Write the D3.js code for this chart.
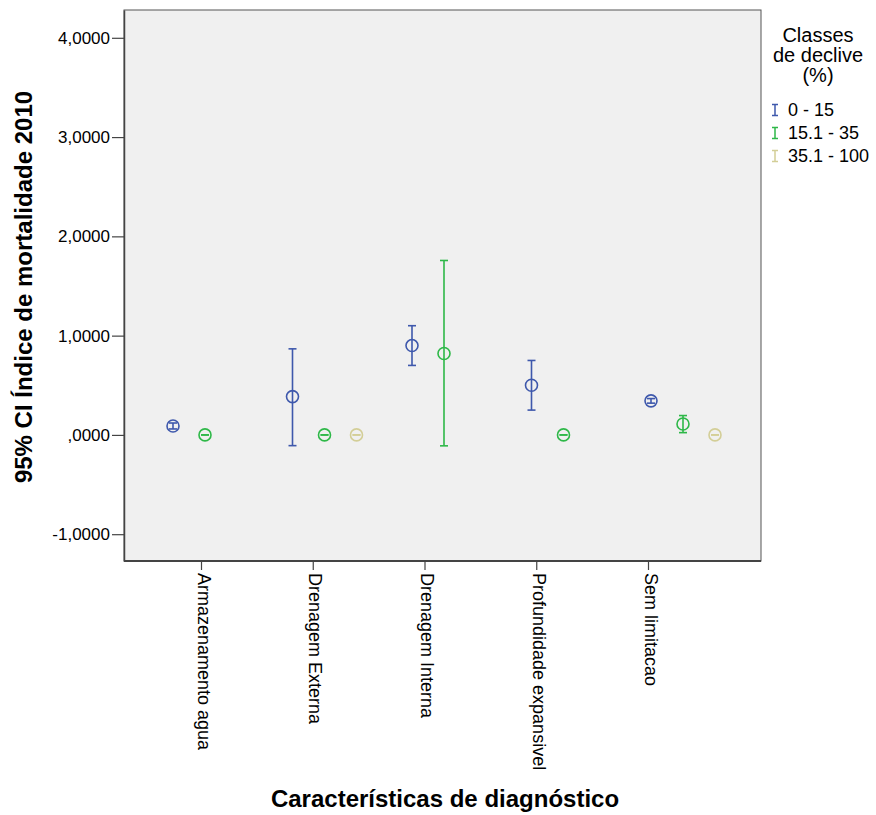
<!DOCTYPE html>
<html>
<head>
<meta charset="utf-8">
<script src="https://cdn.jsdelivr.net/npm/d3@7"></script>
<style>
  body { margin: 0; background: #fff; }
  svg text { font-family: Arial, "Liberation Sans", sans-serif; fill: #000; }
</style>
</head>
<body>
<div id="chart"></div>
<script>
// data
var categories = ["Armazenamento agua", "Drenagem Externa", "Drenagem Interna", "Profundidade expansivel", "Sem limitacao"];
var seriesNames = ["0 - 15", "15.1 - 35", "35.1 - 100"];
var seriesColors = ["#3e58ac", "#2eb848", "#d3ce97"];
// mean / lower / upper per series, null where a class has no data
var means0 = [0.09, 0.386, 0.90, 0.50, 0.343];
var lower0 = [0.06, -0.108, 0.70, 0.25, 0.32];
var upper0 = [0.12, 0.867, 1.10, 0.75, 0.366];
var means1 = [0.0, 0.0, 0.82, 0.0, 0.11];
var lower1 = [0.0, 0.0, -0.11, 0.0, 0.023];
var upper1 = [0.0, 0.0, 1.757, 0.0, 0.195];
var means2 = [null, 0.0, null, null, 0.0];
var lower2 = [null, 0.0, null, null, 0.0];
var upper2 = [null, 0.0, null, null, 0.0];
var yTicks = [-1, 0, 1, 2, 3, 4];

var width = 876, height = 815;
var plotLeft = 124, plotRight = 761, plotTop = 10, plotBottom = 561;

var svg = d3.select("#chart").append("svg")
    .attr("width", width)
    .attr("height", height);

var y = d3.scaleLinear().domain([-1.27, 4.28]).range([plotBottom, plotTop]);
// group centres (middle series) and tick positions as SPSS lays them out
var xGroup = d3.scalePoint().domain(categories).range([205, 683]);
var xTick = d3.scalePoint().domain(categories).range([201, 648]);
var offset = d3.scalePoint().domain(seriesNames).range([-32, 32]);

// plot background
svg.append("rect")
    .attr("x", plotLeft).attr("y", plotTop)
    .attr("width", plotRight - plotLeft).attr("height", plotBottom - plotTop)
    .attr("fill", "#f0f0f0")
    .attr("stroke", "#555").attr("stroke-width", 1);

// y axis
var yAxis = d3.axisLeft(y).tickValues(yTicks).tickSize(12).tickSizeOuter(0).tickPadding(2)
    .tickFormat(function(d) { return d === 0 ? ",0000" : d3.format(".4f")(d).replace(".", ",").replace("\u2212", "-"); });
var gy = svg.append("g").attr("transform", "translate(" + plotLeft + ",0)").call(yAxis);
gy.select(".domain").attr("stroke", "#444").attr("stroke-width", 1.5);
gy.selectAll(".tick line").attr("stroke", "#444").attr("stroke-width", 1.2);
gy.selectAll("text").style("font-size", "17px").attr("fill", "#000");

// x axis
var xAxis = d3.axisBottom(xTick).tickSize(9).tickSizeOuter(0);
var gx = svg.append("g").attr("transform", "translate(0," + plotBottom + ")").call(xAxis);
gx.select(".domain").attr("d", "M" + plotLeft + ",0H" + plotRight).attr("stroke", "#444").attr("stroke-width", 2);
gx.selectAll(".tick line").attr("stroke", "#444").attr("stroke-width", 1.2);
gx.selectAll("text")
    .style("font-size", "18px")
    .attr("text-anchor", "start")
    .attr("transform", "rotate(90)")
    .attr("x", 12).attr("y", 4)
    .attr("dy", "0");

// build rows
var allMeans = [means0, means1, means2], allLow = [lower0, lower1, lower2], allUp = [upper0, upper1, upper2];
var rows = [];
seriesNames.forEach(function(s, si) {
  categories.forEach(function(c, ci) {
    if (allMeans[si][ci] == null) return;
    rows.push({ series: s, si: si, cat: c, mean: allMeans[si][ci], lo: allLow[si][ci], hi: allUp[si][ci] });
  });
});

var marks = svg.append("g").selectAll("g").data(rows).enter().append("g")
    .attr("stroke", function(d) { return seriesColors[d.si]; })
    .attr("fill", "none")
    .attr("stroke-width", 1.6);
var cx = function(d) { return xGroup(d.cat) + offset(d.series); };
var cap = 4;

marks.append("line")
    .attr("x1", cx).attr("x2", cx)
    .attr("y1", function(d) { return y(d.hi); })
    .attr("y2", function(d) { return y(d.lo); });
marks.append("line")
    .attr("x1", function(d) { return cx(d) - cap; }).attr("x2", function(d) { return cx(d) + cap; })
    .attr("y1", function(d) { return y(d.hi); }).attr("y2", function(d) { return y(d.hi); });
marks.append("line")
    .attr("x1", function(d) { return cx(d) - cap; }).attr("x2", function(d) { return cx(d) + cap; })
    .attr("y1", function(d) { return y(d.lo); }).attr("y2", function(d) { return y(d.lo); });
marks.append("circle")
    .attr("cx", cx).attr("cy", function(d) { return y(d.mean); })
    .attr("r", 6);

// axis titles
svg.append("text")
    .attr("transform", "translate(32,287) rotate(-90)")
    .attr("text-anchor", "middle")
    .style("font-size", "24px").style("font-weight", "bold")
    .text("95% CI Índice de mortalidade 2010");
svg.append("text")
    .attr("x", 445).attr("y", 807)
    .attr("text-anchor", "middle")
    .style("font-size", "24px").style("font-weight", "bold")
    .text("Características de diagnóstico");

// legend
var legTitle = ["Classes", "de declive", "(%)"];
svg.append("g").selectAll("text").data(legTitle).enter().append("text")
    .attr("x", 818).attr("y", function(d, i) { return 42 + i * 20; })
    .attr("text-anchor", "middle")
    .style("font-size", "20px")
    .text(function(d) { return d; });
var leg = svg.append("g").selectAll("g").data(seriesNames).enter().append("g")
    .attr("transform", function(d, i) { return "translate(775," + (110 + i * 23) + ")"; });
leg.append("path")
    .attr("d", "M-3,-5.5H3M0,-5.5V5.5M-3,5.5H3")
    .attr("fill", "none")
    .attr("stroke-width", 1.5)
    .attr("stroke", function(d, i) { return seriesColors[i]; });
leg.append("text")
    .attr("x", 13).attr("y", 6)
    .style("font-size", "18px")
    .text(function(d) { return d; });
</script>
</body>
</html>
